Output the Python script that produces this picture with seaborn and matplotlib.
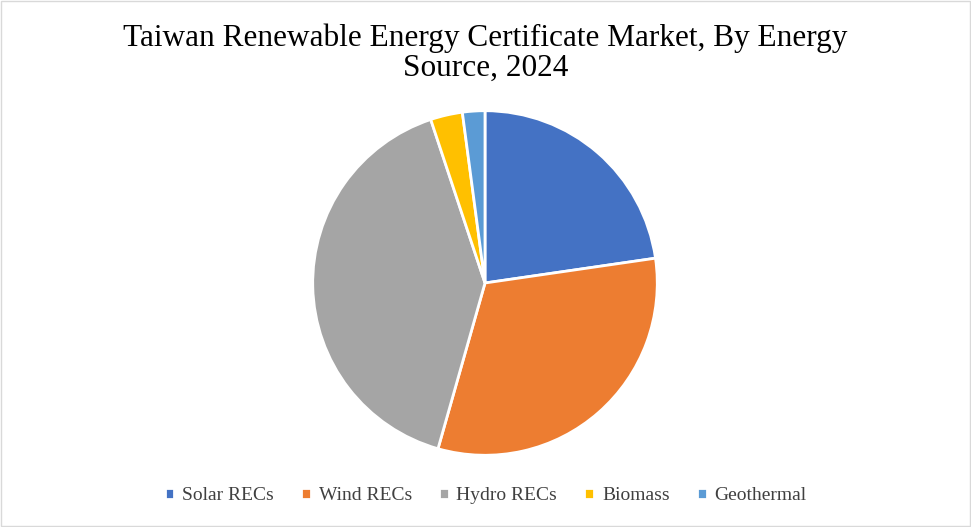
import matplotlib
matplotlib.use("Agg")
import matplotlib.pyplot as plt
import seaborn as sns

categories = ["Solar RECs", "Wind RECs", "Hydro RECs", "Biomass", "Geothermal"]
values = [22.7, 31.7, 40.5, 3.0, 2.1]
colors = ["#4472C4", "#ED7D31", "#A5A5A5", "#FFC000", "#5B9BD5"]

sns.set_theme(style="white")
pal = sns.color_palette(colors)

fig = plt.figure(figsize=(9.71, 5.27), dpi=100)
fig.patch.set_facecolor("white")
fig.patches.append(matplotlib.patches.Rectangle((0.001, 0.001), 0.998, 0.997, transform=fig.transFigure,
                                                fill=False, edgecolor="#D9D9D9", lw=1))
W, H = 971, 527
cx, cy, r = 485, 283, 174
ax = fig.add_axes([(cx - r) / W, (H - cy - r) / H, 2 * r / W, 2 * r / H])
wedges, _ = ax.pie(values, colors=pal, startangle=90, counterclock=False,
                   wedgeprops=dict(edgecolor="white", linewidth=2), radius=1)
ax.set_xlim(-1.01, 1.01); ax.set_ylim(-1.01, 1.01)
ax.set_aspect("equal"); ax.axis("off")

fig.text(0.5, (527 - 53) / 527, "Taiwan Renewable Energy Certificate Market, By Energy\nSource, 2024",
         ha="center", va="center", fontsize=22.5, family="Liberation Serif", color="#000000", linespacing=1.05)
leg = fig.legend(wedges, categories, loc="center", bbox_to_anchor=(0.5, (527 - 496) / 527), ncol=5, frameon=False,
                 prop={"family": "Liberation Serif", "size": 14}, handlelength=0.5, handleheight=0.5,
                 columnspacing=1.4, handletextpad=0.4)
for t in leg.get_texts():
    t.set_color("#404040")
fig.savefig("out.png", dpi=100)
